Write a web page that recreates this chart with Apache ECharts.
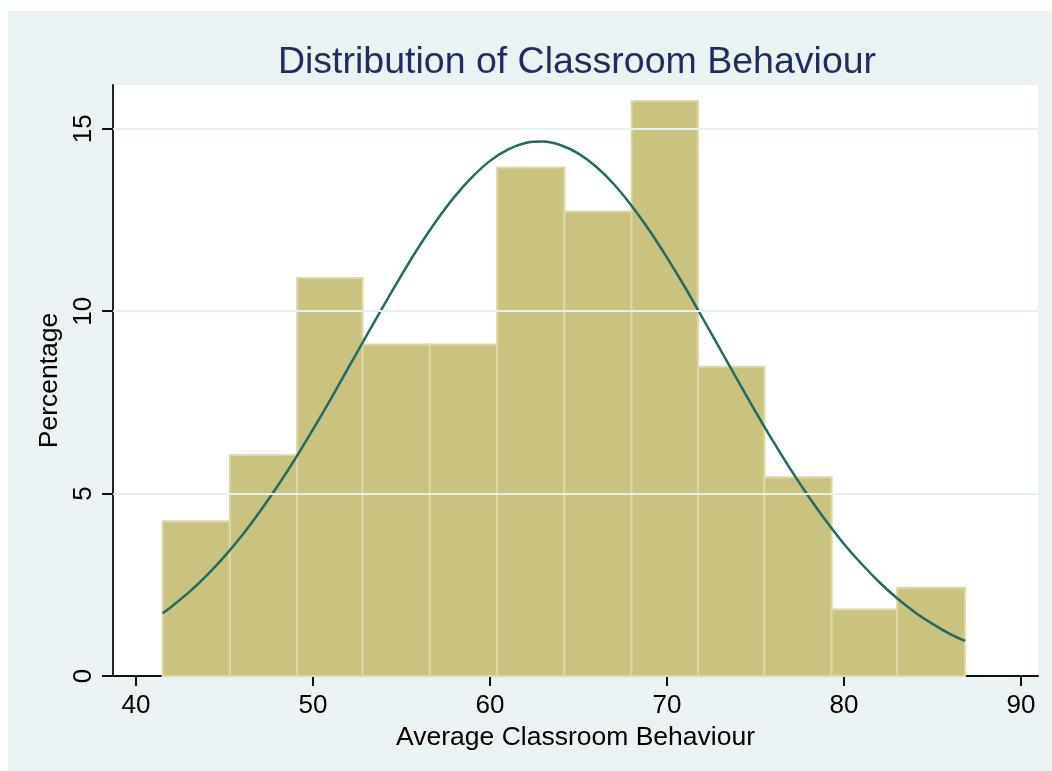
<!DOCTYPE html>
<html>
<head>
<meta charset="utf-8">
<script src="https://cdn.jsdelivr.net/npm/echarts@6/dist/echarts.min.js"></script>
<style>
  html, body { margin: 0; padding: 0; background: #fff; }
  #chart { width: 1052px; height: 771px; }
</style>
</head>
<body>
<div id="chart"></div>
<script>
  // histogram bins (edges) and percentages
  var binEdges = [41.5, 45.3, 49.1, 52.8, 56.6, 60.4, 64.2, 68.0, 71.75, 75.5, 79.3, 83.0, 86.84]
  var binPercent = [4.24, 6.06, 10.91, 9.09, 9.09, 13.94, 12.73, 15.76, 8.48, 5.45, 1.82, 2.42]

  // normal curve
  var curveX = [41.5, 42, 43, 44, 45, 46, 47, 48, 49, 50, 51, 52, 53, 54, 55, 56, 57, 58, 59, 60, 61, 62, 63,
    64, 65, 66, 67, 68, 69, 70, 71, 72, 73, 74, 75, 76, 77, 78, 79, 80, 81, 82, 83, 84, 85, 86, 86.84]
  var curveY = [1.72, 1.90, 2.30, 2.76, 3.28, 3.86, 4.51, 5.21, 5.96, 6.76, 7.59, 8.45, 9.31, 10.16, 10.99, 11.78,
    12.50, 13.14, 13.68, 14.12, 14.43, 14.61, 14.65, 14.55, 14.32, 13.96, 13.48, 12.89, 12.22, 11.47, 10.67, 9.82,
    8.96, 8.10, 7.25, 6.43, 5.65, 4.92, 4.24, 3.62, 3.07, 2.57, 2.13, 1.75, 1.43, 1.15, 0.96]

  var xTicks = [40, 50, 60, 70, 80, 90]
  var yTicks = [0, 5, 10, 15]
  var gridLines = [5, 10, 15]

  var font = 'Liberation Sans, Arial, sans-serif'
  var chart = echarts.init(document.getElementById('chart'), null, { renderer: 'canvas' })

  var barData = binPercent.map(function (v, i) { return [binEdges[i], binEdges[i + 1], v] })
  var curveData = curveX.map(function (x, i) { return [x, curveY[i]] })

  chart.setOption({
    backgroundColor: '#EAF2F3',
    animation: false,
    graphic: [
      { type: 'rect', shape: { x: 0, y: 0, width: 1052, height: 11 }, style: { fill: '#fff' }, z: -10 },
      { type: 'rect', shape: { x: 0, y: 0, width: 8, height: 771 }, style: { fill: '#fff' }, z: -10 }
    ],
    title: {
      text: 'Distribution of Classroom Behaviour',
      left: 572,
      top: 39,
      textAlign: 'center',
      textStyle: { fontFamily: font, fontSize: 37.5, fontWeight: 'normal', color: '#1E2D5E' }
    },
    grid: {
      left: 113, top: 85, right: 14, bottom: 95,
      show: true, backgroundColor: '#fff', borderWidth: 0
    },
    xAxis: {
      type: 'value',
      min: 38.7,
      max: 90.96,
      name: 'Average Classroom Behaviour',
      nameLocation: 'middle',
      nameGap: 47,
      nameTextStyle: { fontFamily: font, fontSize: 26.5, color: '#000' },
      axisLine: { lineStyle: { color: '#111', width: 2 } },
      axisTick: { show: true, length: 10, customValues: xTicks, lineStyle: { color: '#111', width: 2 } },
      axisLabel: { customValues: xTicks, fontFamily: font, fontSize: 26, color: '#000', margin: 17 },
      splitLine: { show: false }
    },
    yAxis: {
      type: 'value',
      min: 0,
      max: 16.2,
      name: 'Percentage',
      nameLocation: 'middle',
      nameGap: 43,
      nameRotate: 90,
      nameTextStyle: { fontFamily: font, fontSize: 26.5, color: '#000' },
      axisLine: { show: true, lineStyle: { color: '#222', width: 2 } },
      axisTick: { show: true, length: 11, customValues: yTicks, lineStyle: { color: '#111', width: 2 } },
      axisLabel: { customValues: yTicks, rotate: 90, fontFamily: font, fontSize: 26, color: '#000', margin: 16 },
      splitLine: { show: false }
    },
    series: [
      {
        type: 'line',
        data: [],
        z: 1,
        silent: true,
        markLine: {
          silent: true,
          symbol: 'none',
          label: { show: false },
          lineStyle: { color: '#E6EFF1', width: 2, type: 'solid' },
          data: gridLines.map(function (v) { return { yAxis: v } })
        }
      },
      {
        type: 'custom',
        z: 2,
        data: barData,
        encode: { x: [0, 1], y: 2 },
        renderItem: function (params, api) {
          var p0 = api.coord([api.value(0), api.value(2)])
          var p1 = api.coord([api.value(1), 0])
          return {
            type: 'rect',
            shape: { x: p0[0], y: p0[1], width: p1[0] - p0[0], height: p1[1] - p0[1] },
            style: { fill: '#CAC37F', stroke: '#DDD8A6', lineWidth: 2 }
          }
        }
      },
      {
        type: 'line',
        z: 3,
        data: curveData,
        smooth: 0.3,
        symbol: 'none',
        lineStyle: { color: '#236A60', width: 2.5 }
      }
    ]
  })
</script>
</body>
</html>
